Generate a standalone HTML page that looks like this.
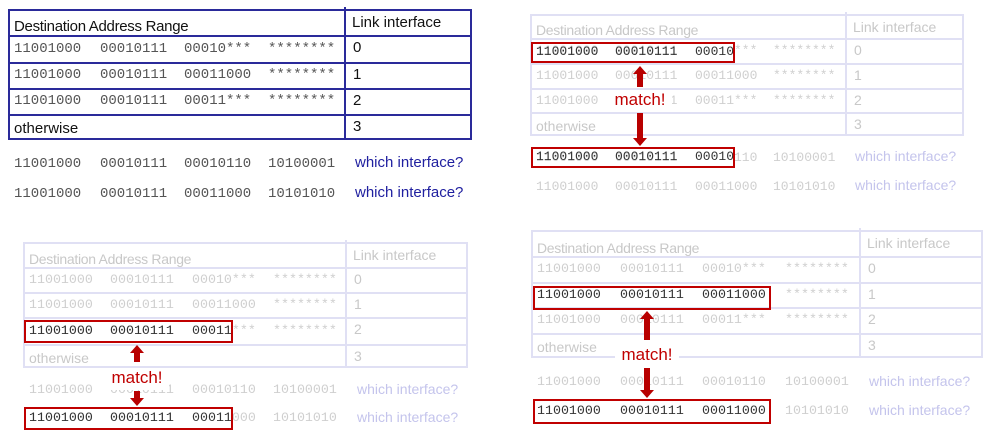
<!DOCTYPE html>
<html><head><meta charset="utf-8"><style>
body{margin:0;width:991px;height:448px;background:#fff;position:relative;overflow:hidden;font-family:"Liberation Sans",sans-serif}
div{position:absolute}
.t{white-space:pre;line-height:1}
.m{font-family:"Liberation Mono",monospace}
</style></head><body>
<script>
function el(s,txt,cls){var d=document.createElement('div');d.setAttribute('style',s);if(txt!==undefined)d.textContent=txt;if(cls)d.className=cls;document.body.appendChild(d);return d;}
function panel(c){
 var bc=c.bc,L=c.l,R=c.r,T=c.t,B=c.b,X=c.dx,w=c.bw;
 el('left:'+L+'px;top:'+T+'px;width:'+(R-L)+'px;height:0;border-top:'+w+'px solid '+bc);
 el('left:'+L+'px;top:'+B+'px;width:'+(R-L)+'px;height:0;border-top:'+w+'px solid '+bc);
 el('left:'+L+'px;top:'+T+'px;width:0;height:'+(B-T+2)+'px;border-left:'+w+'px solid '+bc);
 el('left:'+R+'px;top:'+T+'px;width:0;height:'+(B-T+2)+'px;border-left:'+w+'px solid '+bc);
 el('left:'+X+'px;top:'+(T-2)+'px;width:0;height:'+(B-T+4)+'px;border-left:'+w+'px solid '+bc);
 c.rows.forEach(function(y){el('left:'+L+'px;top:'+y+'px;width:'+(R-L)+'px;height:0;border-top:'+w+'px solid '+bc);});
 var fs=c.fs,tc=c.tc;
 el('left:'+(L+6)+'px;top:'+(c.rows[0]-fs-2)+'px;font-size:'+(fs+1)+'px;color:'+tc+';letter-spacing:-0.3px',"Destination Address Range",'t');
 el('left:'+(X+8)+'px;top:'+(T+6)+'px;font-size:'+(fs+1)+'px;color:'+tc,"Link interface",'t');
 var data=[["11001000","00010111","00010***","********"],["11001000","00010111","00011000","********"],["11001000","00010111","00011***","********"]];
 var ys=[T].concat(c.rows);
 for(var i=0;i<3;i++){
  var yc=(ys[i+1]+ys[i+2])/2;
  for(var j=0;j<4;j++){
   var hi=(c.hrow===i&&j<3);
   el('left:'+c.fx[j]+'px;top:'+(yc-c.ms/2)+'px;font-size:'+c.ms+'px;color:'+(hi?'#333':c.nc),data[i][j],'t m');
  }
  el('left:'+(X+9)+'px;top:'+(ys[i+1]+5)+'px;font-size:'+(fs+1)+'px;color:'+tc,""+i,'t');
 }
 el('left:'+(L+6)+'px;top:'+((ys[4]+B)/2-fs/2+2)+'px;font-size:'+(fs+1)+'px;color:'+tc,"otherwise",'t');
 el('left:'+(X+9)+'px;top:'+(ys[4]+5)+'px;font-size:'+(fs+1)+'px;color:'+tc,"3",'t');
 var q=[["11001000","00010111","00010110","10100001"],["11001000","00010111","00011000","10101010"]];
 for(var k=0;k<2;k++){
  for(var j=0;j<4;j++){
   var hi=(c.qh===k&&j<c.hn);
   el('left:'+c.fx[j]+'px;top:'+(c.qy[k]-c.ms/2)+'px;font-size:'+c.ms+'px;color:'+(hi?'#333':c.nc),q[k][j],'t m');
  }
  el('left:'+c.wx+'px;top:'+(c.qy[k]-fs/2-2)+'px;font-size:'+(fs+1)+'px;color:'+c.wc,"which interface?",'t');
 }
}
function match(b1,b2,ax,up1,up2,my,dn1,dn2){
 [b1,b2].forEach(function(b){el('left:'+b[0]+'px;top:'+b[1]+'px;width:'+(b[2]-b[0]-4)+'px;height:'+(b[3]-b[1]-4)+'px;border:2px solid #c00000');});
 var col='#b80000';
 el('left:'+(ax-7)+'px;top:'+up1+'px;width:0;height:0;border-left:7px solid transparent;border-right:7px solid transparent;border-bottom:8px solid '+col);
 el('left:'+(ax-3)+'px;top:'+(up1+8)+'px;width:6px;height:'+(up2-up1-8)+'px;background:'+col);
 el('left:'+(ax-32)+'px;top:'+(my-10)+'px;width:64px;height:22px;background:#fff');
 el('left:'+(ax-30)+'px;top:'+(my-9)+'px;width:60px;text-align:center;font-size:17px;color:#c00000',"match!",'t');
 el('left:'+(ax-3)+'px;top:'+dn1+'px;width:6px;height:'+(dn2-dn1-8)+'px;background:'+col);
 el('left:'+(ax-7)+'px;top:'+(dn2-8)+'px;width:0;height:0;border-left:7px solid transparent;border-right:7px solid transparent;border-top:8px solid '+col);
}
var fbc='#e0e0f4',ftc='#c8c8c8',fnc='#cfcfcf',fwc='#c4c4ec';
panel({l:8,r:470,t:9,b:138,dx:344,rows:[35,62,88,114],fs:14,tc:'#111',nc:'#555',ms:14,fx:[14,100,184,268],qy:[164,194],wx:355,wc:'#2020a0',bc:'#2a2a9a',bw:2,hrow:-1,qh:-1});
panel({l:530,r:962,t:14,b:134,dx:845,rows:[38,63,88,112],fs:13,tc:ftc,nc:fnc,ms:13,fx:[536,615,695,773],qy:[157,186],wx:855,wc:fwc,bc:fbc,bw:2,hrow:-1,qh:-1});
panel({l:23,r:466,t:242,b:366,dx:345,rows:[267,292,317,344],fs:13,tc:ftc,nc:fnc,ms:13.3,fx:[29,110,192,273],qy:[390,418],wx:357,wc:fwc,bc:fbc,bw:2,hrow:-1,qh:-1});
panel({l:531,r:981,t:230,b:356,dx:859,rows:[256,282,307,333],fs:13,tc:ftc,nc:fnc,ms:13.3,fx:[537,620,702,785],qy:[382,411],wx:869,wc:fwc,bc:fbc,bw:2,hrow:1,qh:1,hn:3});
el('left:536px;top:45px;font-size:13px;color:#333','11001000','t m');el('left:615px;top:45px;font-size:13px;color:#333','00010111','t m');
el('left:695px;top:45px;width:40px;overflow:hidden;background:#fff;font-size:13px;color:#333','00010','t m');
el('left:536px;top:150px;font-size:13px;color:#333','11001000','t m');el('left:615px;top:150px;font-size:13px;color:#333','00010111','t m');
el('left:695px;top:150px;width:39px;overflow:hidden;background:#fff;font-size:13px;color:#333','00010','t m');
el('left:29px;top:324px;font-size:13.3px;color:#333','11001000','t m');el('left:110px;top:324px;font-size:13.3px;color:#333','00010111','t m');
el('left:192px;top:324px;background:#fff;font-size:13.3px;color:#333','00011','t m');
el('left:29px;top:411px;font-size:13.3px;color:#333','11001000','t m');el('left:110px;top:411px;font-size:13.3px;color:#333','00010111','t m');
el('left:192px;top:411px;background:#fff;font-size:13.3px;color:#333','00011','t m');
match([531,42,735,63],[531,147,735,168],640,66,87,100,113,146);
match([24,320,233,343],[24,407,233,430],137,345,362,378,391,406);
match([533,286,771,310],[533,399,771,424],647,311,340,355,368,398);
</script>
</body></html>
